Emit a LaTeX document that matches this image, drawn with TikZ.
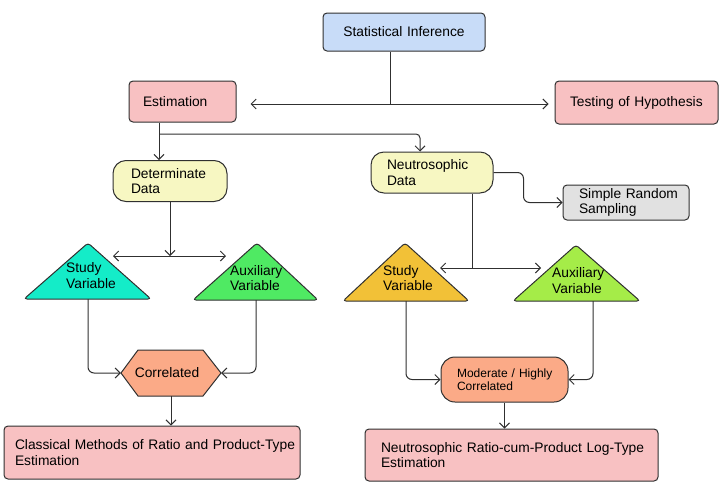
\documentclass[tikz,border=0pt]{standalone}
\usepackage{fontspec}
\setmainfont{Liberation Sans}
\usetikzlibrary{arrows.meta}
\definecolor{ln}{HTML}{303030}
\definecolor{siblue}{HTML}{C8DCF8}
\definecolor{bpink}{HTML}{F8C1C2}
\definecolor{byel}{HTML}{F7F7C2}
\definecolor{bgray}{HTML}{E1E1E1}
\definecolor{tcyan}{HTML}{14ECC8}
\definecolor{tgreen}{HTML}{4FEA63}
\definecolor{torange}{HTML}{F2C137}
\definecolor{tlime}{HTML}{A5EC48}
\definecolor{salmon}{HTML}{FBAA87}
\tikzset{
  box/.style={draw=ln, line width=1pt, rounded corners=4pt, align=left,
    inner ysep=0pt, font=\fontsize{13.8}{15.5}\selectfont},
  pill/.style={box, rounded corners=13pt},
  tri/.style={draw=ln, line width=1pt, rounded corners=3pt},
  conn/.style={draw=ln, line width=1pt},
  lbl/.style={align=left, inner sep=0pt, anchor=west, font=\fontsize{13.8}{15.5}\selectfont}
}
\begin{document}
\begin{tikzpicture}[x=1pt,y=-1pt,>={Straight Barb[length=5pt,width=10pt]}]
\useasboundingbox (0,0) rectangle (720,490);
% boxes
\node[box, fill=siblue, minimum height=38pt, text width=146pt, inner xsep=8pt, align=center] (SI) at (404,32) {Statistical Inference};
\node[box, fill=bpink, minimum height=41pt, text width=79pt, inner xsep=14pt] (Est) at (182.5,101.5) {Estimation};
\node[box, fill=bpink, minimum height=43pt, text width=133pt, inner xsep=15pt] (Test) at (636.5,102.5) {\mbox{Testing of Hypothesis}};
\node[pill, fill=byel, minimum height=41pt, text width=78pt, inner xsep=18pt] (Det) at (170,181) {\mbox{Determinate}\\Data};
\node[pill, fill=byel, minimum height=41pt, text width=90pt, inner xsep=16pt] (Neu) at (432,172.5) {\mbox{Neutrosophic}\\Data};
\node[box, fill=bgray, minimum height=35pt, text width=94pt, inner xsep=16pt] (SRS) at (626,202.5) {\mbox{Simple Random}\\Sampling};
\node[box, fill=bpink, minimum height=53pt, text width=274pt, inner xsep=11pt] (Cls) at (152,452.5) {\mbox{Classical Methods of Ratio and Product-Type}\\Estimation};
\node[pill, fill=salmon, minimum height=45pt, text width=95pt, inner xsep=16pt, rounded corners=14pt, font=\fontsize{12}{13.5}\selectfont] (MHC) at (504.5,379.5) {\mbox{Moderate / Highly}\\Correlated};
\node[box, fill=bpink, minimum height=52pt, text width=261pt, inner xsep=16pt] (NR) at (511.5,455) {\mbox{Neutrosophic Ratio-cum-Product Log-Type}\\Estimation};
% triangles
\path[tri, fill=tcyan] (88,243) -- (151,299) -- (24,299) -- cycle;
\path[tri, fill=tgreen] (257,243) -- (318,300) -- (193,300) -- cycle;
\path[tri, fill=torange] (405,243) -- (469,301) -- (343,301) -- cycle;
\path[tri, fill=tlime] (576,245) -- (640,301) -- (513,301) -- cycle;
\node[lbl] (SVLt) at (66,275.5) {Study\\Variable};
\node[lbl] (AVLt) at (230,278) {Auxiliary\\Variable};
\node[lbl] (SVRt) at (383,278) {Study\\Variable};
\node[lbl] (AVRt) at (552,280.5) {Auxiliary\\Variable};
\coordinate (SVLb) at (88,299);
\coordinate (AVLb) at (256,300);
\coordinate (SVRb) at (406,301);
\coordinate (AVRb) at (593,301);
% hexagon
\path[draw=ln, line width=1pt, fill=salmon] (121,373) -- (138,350) -- (203,350) -- (221,373) -- (203,396) -- (138,396) -- cycle;
\node[minimum width=100pt, minimum height=46pt, inner sep=0pt, font=\fontsize{13.8}{15.5}\selectfont] (Cor) at (171,373) {\hspace*{-8pt}Correlated};
% connectors
\coordinate (j1) at (390,104);
\draw[conn] (SI.south -| j1) -- (j1);
\draw[conn, <->, shorten <=14pt, shorten >=6pt] (Est.east |- j1) -- (Test.west |- j1);
\coordinate (e1) at (159,134);
\coordinate (e2) at (420,134);
\draw[conn, ->] (Est.south -| e1) -- (Det.north -| e1);
\draw[conn, ->, rounded corners=4pt] (e1) -- (e2) -- (Neu.north -| e2);
\draw[conn, ->, rounded corners=6pt] (Neu.east) -- ++(30,0) |- (SRS.west);
\coordinate (d1) at (170,256);
\coordinate (dl) at (113,256);
\coordinate (dr) at (226,256);
\draw[conn, ->] (Det.south) -- (d1);
\draw[conn, <->] (dl) -- (dr);
\coordinate (n1) at (472,268);
\coordinate (nl) at (440,268);
\coordinate (nr) at (541,268);
\draw[conn] (Neu.south -| n1) -- (n1);
\draw[conn, <->] (nl) -- (nr);
\draw[conn, ->, rounded corners=6pt] (SVLb) |- (Cor.west);
\draw[conn, ->, rounded corners=6pt] (AVLb) |- (Cor.east);
\draw[conn, ->] (Cor.south) -- (Cls.north -| Cor.south);
\draw[conn, ->, rounded corners=6pt] (SVRb) |- (MHC.west);
\draw[conn, ->, rounded corners=6pt] (AVRb) |- (MHC.east);
\draw[conn, ->] (MHC.south) -- (NR.north -| MHC.south);
\end{tikzpicture}
\end{document}
